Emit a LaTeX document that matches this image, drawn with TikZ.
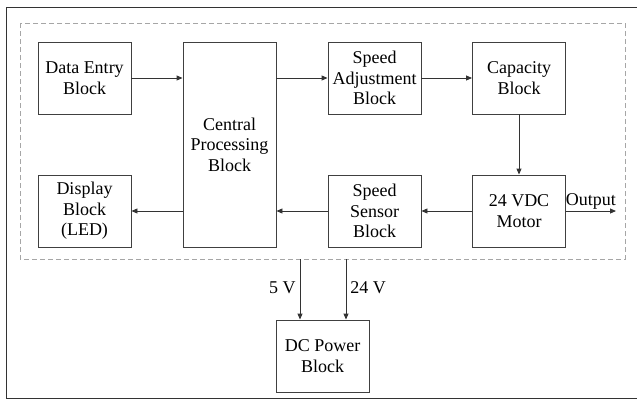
\documentclass[tikz,border=0pt]{standalone}
\usepackage{fontspec}
\setmainfont{Liberation Serif}
\usetikzlibrary{arrows.meta}

\tikzset{
    block/.style={draw=black!75, line width=0.9pt, minimum width=93pt, minimum height=72pt,
        inner sep=0pt, align=center, font=\fontsize{18}{20.5}\selectfont},
    pfeil/.style={draw=black!80, line width=0.9pt, -{Triangle[length=6pt,width=5pt]}},
    txt/.style={font=\fontsize{18}{20.5}\selectfont, inner sep=1pt}
}

\begin{document}
\begin{tikzpicture}[x=1pt, y=-1pt]
    \useasboundingbox (0,0) rectangle (637,399);
    % frame and dashed group
    \draw[black!80, line width=1pt] (640,7) -- (6,7) -- (6,398) -- (640,398);
    \draw[black!35, line width=1pt, dash pattern=on 5pt off 3pt] (20,23) rectangle (625,259);
    \path node[block] (data) at (84.5,78) {Data Entry\\Block}
        node[block] (disp) at (84.5,211) {Display\\Block\\(LED)}
        node[block, minimum height=205pt] (cpu) at (229.5,144.5) {Central\\Processing\\Block}
        node[block] (adj) at (374.5,78) {Speed\\Adjustment\\Block}
        node[block] (cap) at (519,78) {Capacity\\Block}
        node[block] (sens) at (374.5,211) {Speed\\Sensor\\Block}
        node[block] (motor) at (519,211) {24 VDC\\Motor}
        node[block] (power) at (322.5,356) {DC Power\\Block};
    \coordinate (out) at (616,211);
    \coordinate (v5) at (300,259);
    \coordinate (v24) at (346,259);
    \draw[pfeil] (data.east) -- (data.east -| cpu.west);
    \draw[pfeil] (cpu.east |- adj.west) -- (adj.west);
    \draw[pfeil] (adj) -- (cap);
    \draw[pfeil] (cap) -- (motor);
    \draw[pfeil] (motor) -- (sens);
    \draw[pfeil] (sens.west) -- (sens.west -| cpu.east);
    \draw[pfeil] (cpu.west |- disp.east) -- (disp.east);
    \draw[pfeil] (motor.east) -- node[txt, above, pos=0.5] {Output} (out);
    \draw[pfeil] (v5) -- node[txt, left=3pt, pos=0.48] {5 V} (v5 |- power.north);
    \draw[pfeil] (v24) -- node[txt, right=3pt, pos=0.48] {24 V} (v24 |- power.north);
\end{tikzpicture}
\end{document}
